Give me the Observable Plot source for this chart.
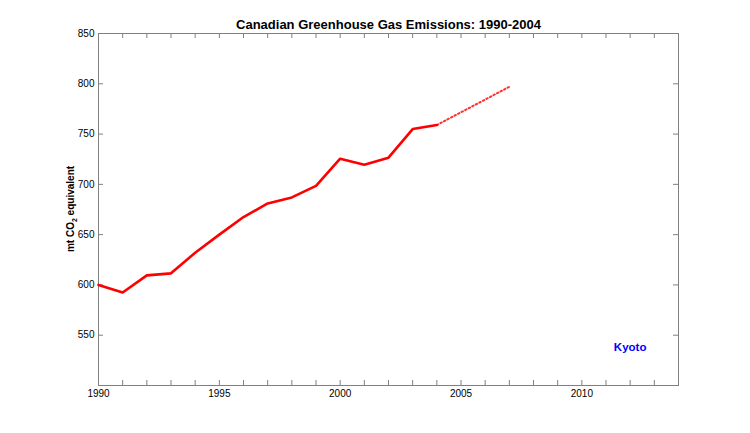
<!DOCTYPE html>
<html>
<head>
<meta charset="utf-8">
<script src="https://cdn.jsdelivr.net/npm/d3@7"></script>
<script src="https://cdn.jsdelivr.net/npm/@observablehq/plot@0.6"></script>
<style>
  html, body { margin: 0; padding: 0; background: #fff; }
  svg { display: block; }
</style>
</head>
<body>
<div id="chart"></div>
<script>
const years = [1990, 1991, 1992, 1993, 1994, 1995, 1996, 1997, 1998, 1999, 2000, 2001, 2002, 2003, 2004];
const emissions = [600, 592.5, 609.5, 611.5, 632, 650, 667.5, 681, 687, 698.5, 725.5, 719.5, 726.5, 755, 759];
const projYears = [2004, 2007];
const projValues = [759, 797];
const xTickLabels = [1990, 1995, 2000, 2005, 2010];
const yTickLabels = [550, 600, 650, 700, 750, 800, 850];
const minorYears = d3.range(1990, 2015);
const yTicks = [550, 600, 650, 700, 750, 800];
const kyoto = [{year: 2012, value: 538, label: "Kyoto"}];
const titleText = "Canadian Greenhouse Gas Emissions: 1990-2004";

const W = 750, H = 433;
const mL = 98, mR = 72, mT = 33, mB = 48;
const pw = W - mL - mR, ph = H - mT - mB;
const axisColor = "#808080";

const data = years.map((y, i) => ({year: y, value: emissions[i]}));
const proj = projYears.map((y, i) => ({year: y, value: projValues[i]}));

const chart = Plot.plot({
  width: W, height: H,
  marginLeft: mL, marginRight: mR, marginTop: mT, marginBottom: mB,
  style: {fontFamily: "Liberation Sans, Arial, sans-serif", fontSize: "10px", color: "#000", background: "#fff"},
  x: {domain: [1990, 2014]},
  y: {domain: [500, 850]},
  marks: [
    Plot.frame({stroke: axisColor, strokeWidth: 1}),
    Plot.tickX(minorYears, {x: d => d, stroke: axisColor, insetTop: ph - 5}),
    Plot.tickX(minorYears, {x: d => d, stroke: axisColor, insetBottom: ph - 5}),
    Plot.tickY(yTicks, {y: d => d, stroke: axisColor, insetRight: pw - 5}),
    Plot.tickY(yTicks, {y: d => d, stroke: axisColor, insetLeft: pw - 5}),
    Plot.axisX({ticks: xTickLabels, tickSize: 0, tickPadding: 4, tickFormat: d => String(d), label: null, fontSize: 10}),
    Plot.axisY({ticks: yTickLabels, tickSize: 0, tickPadding: 4, label: null, fontSize: 10}),
    Plot.line(proj, {x: "year", y: "value", stroke: "#ff3030", strokeWidth: 2, strokeDasharray: "1.5 2.5"}),
    Plot.line(data, {x: "year", y: "value", stroke: "#ff0000", strokeWidth: 2.6, strokeLinejoin: "round"}),
    Plot.text(kyoto, {x: "year", y: "value", text: "label", fill: "#0000ff", fontWeight: "bold", fontSize: 11.5}),
    Plot.text([titleText], {frameAnchor: "top", dy: -14, text: d => d, fontWeight: "bold", fontSize: 13, fill: "#000"})
  ]
});

document.getElementById("chart").appendChild(chart);

// y-axis label with subscript
const svg = d3.select(chart);
const lbl = svg.append("text")
  .attr("transform", `translate(74,${mT + ph / 2}) rotate(-90)`)
  .attr("text-anchor", "middle")
  .attr("font-weight", "bold")
  .attr("font-size", 10)
  .attr("font-family", "Liberation Sans, Arial, sans-serif")
  .attr("fill", "#000");
lbl.append("tspan").text("mt CO");
lbl.append("tspan").attr("font-size", 7).attr("dy", 3).text("2");
lbl.append("tspan").attr("dy", -3).text(" equivalent");
</script>
</body>
</html>
